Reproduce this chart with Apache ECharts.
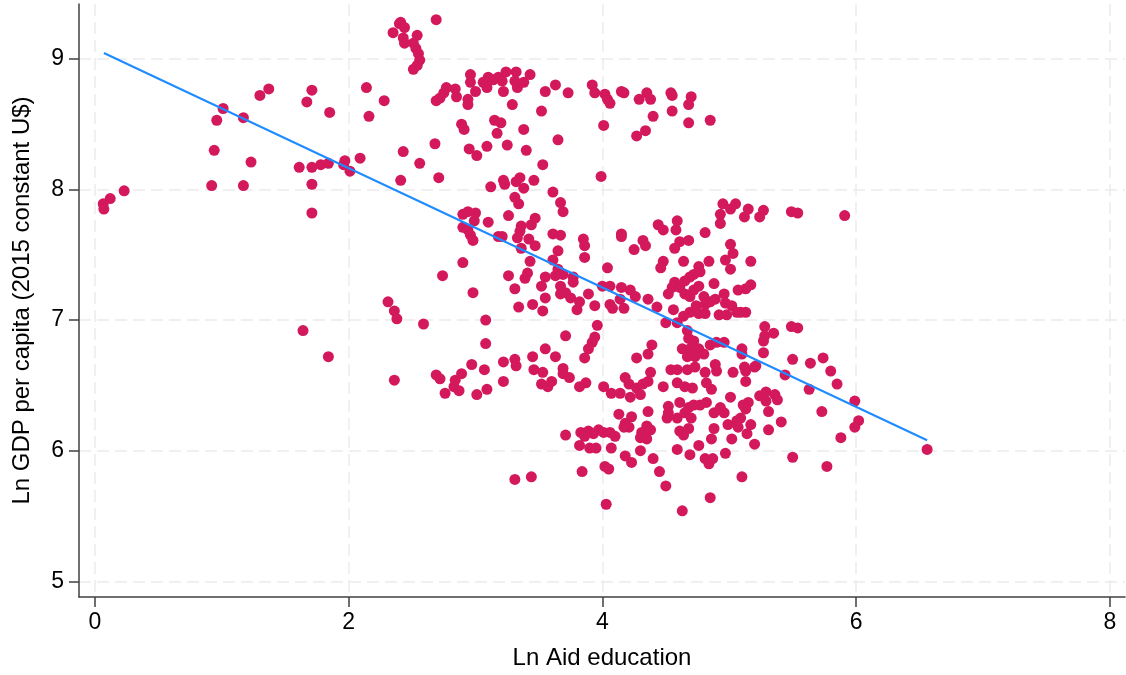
<!DOCTYPE html>
<html><head><meta charset="utf-8">
<script src="https://cdn.jsdelivr.net/npm/echarts@6/dist/echarts.min.js"></script>
<style>html,body{margin:0;padding:0;background:#fff}#c{width:1126px;height:675px}</style>
</head><body><div id="c"></div>
<script>
// Ln Aid education (x) and Ln GDP per capita (y)
const aidX = [
0.065,0.07,0.12,0.23,0.92,0.94,0.96,1.01,1.17,1.17,1.23,1.30,1.37,1.61,1.67,1.71,1.71,1.71,1.71,1.78,1.84,1.85,1.96,1.97,2.01,2.09,2.14,2.16,2.28,2.31,2.36,2.38,1.64,2.41,2.43,2.35,2.40,1.84,2.36,
2.69,2.41,2.44,2.43,2.54,2.44,2.51,2.53,2.55,2.56,2.54,2.51,2.77,2.84,2.75,2.72,2.69,2.85,2.94,2.94,2.96,2.96,3.00,3.06,3.10,3.09,3.14,3.18,3.21,3.24,3.22,3.32,3.31,3.33,3.38,3.43,3.29,3.55,3.63,3.52,3.73,2.89,2.91,3.15,3.20,3.17,3.38,3.65,2.68,2.56,2.95,3.01,3.09,3.25,3.40,3.53,2.71,3.22,3.23,3.35,3.32,3.38,3.46,3.12,
3.61,3.67,3.69,3.31,3.34,3.26,2.90,2.94,3.00,2.99,3.10,2.90,2.94,2.96,2.98,3.18,3.21,3.36,3.35,3.33,3.44,3.47,3.42,3.47,3.36,3.43,3.61,3.67,3.65,3.61,3.65,3.63,3.69,3.67,3.67,3.71,3.55,3.52,3.55,3.45,3.53,3.41,3.39,3.26,3.31,3.34,2.90,2.74,2.98,2.59,3.08,3.08,3.71,3.55,
2.69,2.72,2.89,2.84,2.83,2.87,2.76,2.97,3.07,3.01,3.09,3.22,3.31,3.32,3.22,3.45,3.63,3.46,3.53,3.69,3.69,3.74,3.52,3.57,3.60,3.71,3.31,3.44,
3.92,3.94,4.02,4.04,4.06,4.15,4.17,4.35,4.29,4.38,4.54,4.55,4.70,4.68,4.01,4.40,4.55,4.34,4.27,4.68,4.85,3.99,4.95,5.05,5.01,4.93,5.15,5.12,4.93,4.59,4.58,4.44,4.48,4.15,4.81,5.24,
5.27,5.49,5.54,5.91,5.17,5.17,5.13,5.13,5.09,5.28,5.35,5.28,5.27,5.49,5.54,5.10,5.27,5.50,5.74,
5.64,5.80,5.85,5.44,5.63,5.99,5.73,6.02,5.99,5.88,6.56,5.50,5.77,5.10,5.20,5.12,5.13,5.13,5.24,5.29,5.29,5.36,5.38,5.31,5.11,5.15,5.13,5.09,5.17,5.14,5.41,5.31,5.20,
3.85,3.86,3.86,4.15,4.25,4.32,4.34,4.61,4.68,4.57,5.01,5.03,4.48,4.46,4.64,4.76,4.84,4.97,5.01,4.04,3.77,3.77,4.00,4.06,4.15,4.22,4.26,4.36,4.43,4.50,4.59,4.56,4.52,4.55,4.57,4.61,4.65,4.69,4.72,4.77,4.65,4.69,4.72,4.76,4.80,4.74,4.81,4.85,4.89,4.96,4.97,4.88,5.07,5.02,5.06,4.69,4.64,4.76,4.81,4.92,4.98,4.06,4.08,4.14,4.17,3.94,3.80,3.82,3.89,3.75,4.67,4.68,4.72,4.63,4.69,4.76,4.80,4.67,4.73,4.85,4.90,4.96,5.10,5.21,4.89,3.96,3.94,3.92,3.89,3.86,4.39,4.36,4.27,4.18,4.38,4.54,4.59,4.67,4.73,4.81,4.90,5.03,
3.82,3.87,4.01,4.07,4.14,4.21,4.22,4.27,4.30,4.32,4.36,4.48,4.59,4.65,4.71,4.82,4.86,5.01,4.13,4.23,4.18,4.21,4.17,4.36,4.52,4.52,4.61,4.51,4.59,4.65,4.68,4.72,4.77,4.82,4.70,4.88,4.93,4.96,4.35,4.38,4.31,4.35,4.30,3.83,3.89,3.97,4.01,4.06,4.10,3.93,3.86,3.82,3.90,3.95,4.07,4.18,4.23,4.30,4.40,4.45,4.50,4.02,4.05,3.84,4.03,4.63,4.85,4.59,4.69,4.76,4.61,4.64,4.68,4.86,4.88,4.81,4.84,4.87,4.97,5.02,4.99,5.06,5.07
];
const gdpY = [
7.89,7.85,7.93,7.99,8.03,8.30,8.53,8.62,8.55,8.03,8.21,8.72,8.77,8.17,8.67,8.76,8.17,8.04,7.82,8.19,8.20,8.59,8.19,8.22,8.14,8.24,8.78,8.56,8.68,7.14,7.07,7.01,6.92,8.07,8.29,9.20,9.27,6.72,6.54,
9.30,9.28,9.24,9.16,9.18,9.12,9.12,9.08,9.04,8.99,8.95,8.92,8.78,8.77,8.74,8.70,8.68,8.71,8.69,8.65,8.88,8.82,8.75,8.82,8.86,8.78,8.84,8.86,8.83,8.90,8.75,8.90,8.83,8.78,8.82,8.88,8.65,8.75,8.80,8.60,8.74,8.50,8.46,8.53,8.51,8.43,8.46,8.38,8.35,8.20,8.31,8.26,8.33,8.34,8.30,8.19,8.09,8.07,8.04,8.09,8.06,8.01,8.07,8.02,
7.98,7.90,7.83,7.94,7.89,7.80,7.81,7.83,7.82,7.76,7.75,7.71,7.69,7.65,7.61,7.64,7.64,7.72,7.68,7.63,7.73,7.78,7.62,7.57,7.55,7.45,7.66,7.65,7.53,7.46,7.39,7.34,7.35,7.26,7.20,7.21,7.33,7.26,7.17,7.12,7.07,7.36,7.32,7.34,7.24,7.10,7.44,7.34,7.21,6.97,7.00,6.82,6.88,6.78,
6.58,6.55,6.59,6.54,6.49,6.46,6.44,6.66,6.62,6.43,6.47,6.68,6.70,6.65,6.53,6.72,6.72,6.62,6.60,6.63,6.59,6.56,6.51,6.49,6.53,6.12,5.78,5.80,
8.80,8.74,8.73,8.69,8.66,8.75,8.74,8.74,8.69,8.69,8.74,8.72,8.71,8.65,8.49,8.56,8.60,8.45,8.41,8.51,8.53,8.10,7.89,7.89,7.85,7.81,7.85,7.79,7.74,7.76,7.69,7.73,7.69,7.66,7.67,7.79,
7.84,7.83,7.82,7.80,7.45,7.27,7.24,7.06,7.06,6.95,6.90,6.88,6.84,6.95,6.94,6.78,6.75,6.70,6.71,
6.67,6.61,6.51,6.58,6.47,6.38,6.30,6.23,6.18,6.10,6.01,5.95,5.88,5.80,6.64,6.64,6.61,6.53,6.42,6.45,6.38,6.43,6.39,6.30,6.35,6.37,6.32,6.25,6.20,6.13,6.22,6.16,6.05,
7.62,7.57,7.48,7.64,7.54,7.61,7.57,7.60,7.61,7.55,7.58,7.51,7.45,7.40,7.45,7.41,7.45,7.46,7.39,7.40,7.33,7.29,7.26,7.26,7.25,7.23,7.18,7.16,7.10,6.98,6.98,7.08,7.20,7.25,7.29,7.25,7.30,7.33,7.35,7.37,7.20,7.18,7.23,7.26,7.18,7.11,7.12,7.14,7.16,7.20,7.13,7.28,7.23,7.11,7.06,7.06,7.03,7.05,7.05,7.04,7.04,7.12,7.09,7.16,7.09,7.11,7.08,7.14,7.20,7.17,6.92,6.86,6.84,6.78,6.78,6.78,6.74,6.72,6.72,6.81,6.83,6.83,6.74,6.65,6.66,6.96,6.87,6.83,6.78,6.71,6.81,6.74,6.71,6.56,6.60,6.62,6.62,6.62,6.64,6.60,6.61,6.60,
6.49,6.52,6.49,6.44,6.44,6.51,6.41,6.48,6.43,6.51,6.53,6.49,6.52,6.49,6.48,6.52,6.47,6.41,6.28,6.26,6.21,6.18,6.18,6.30,6.34,6.29,6.37,6.25,6.25,6.29,6.33,6.35,6.35,6.37,6.25,6.29,6.33,6.29,6.19,6.16,6.14,6.09,6.10,6.14,6.15,6.16,6.14,6.14,6.11,6.13,6.11,6.04,6.02,6.02,6.02,5.96,5.91,6.00,5.94,5.84,5.73,5.88,5.86,5.84,5.59,5.54,5.64,6.01,5.97,6.04,6.15,6.12,6.17,6.09,6.17,5.94,5.90,5.94,5.98,6.09,6.20,6.23,6.18
];
// fitted line end points
const fitX = [0.07, 6.56];
const fitY = [9.045, 6.08];
const xTicks = [0, 2, 4, 6, 8];
const yTicks = [5, 6, 7, 8, 9];
const xTitle = 'Ln Aid education';
const yTitle = 'Ln GDP per capita (2015 constant U$)';

const pts = aidX.map((x, i) => [x, gdpY[i]]);
const fit = fitX.map((x, i) => [x, fitY[i]]);
const FONT = 'Liberation Sans, Arial, Helvetica, sans-serif';
const axisCol = '#404040';
const gridLine = {show: true, lineStyle: {type: [12, 6], color: '#ebebeb', width: 1.5}};

const chart = echarts.init(document.getElementById('c'), null, {renderer: 'canvas'});
chart.setOption({
  animation: false,
  backgroundColor: '#fff',
  grid: {left: 79, right: 1, top: 4, bottom: 77, containLabel: false},
  xAxis: {
    type: 'value', min: -0.126, max: 8.12,
    name: xTitle, nameLocation: 'middle', nameGap: 49,
    nameTextStyle: {fontSize: 24, color: '#000', fontFamily: FONT},
    axisLine: {show: true, onZero: false, lineStyle: {color: axisCol, width: 1.5}},
    axisTick: {show: true, customValues: xTicks, length: 10, lineStyle: {color: axisCol, width: 1.5}},
    axisLabel: {customValues: xTicks, fontSize: 23, color: '#000', margin: 14, fontFamily: FONT},
    splitLine: gridLine
  },
  yAxis: {
    type: 'value', min: 4.88, max: 9.42,
    name: yTitle, nameLocation: 'middle', nameGap: 45, nameRotate: 90,
    nameTextStyle: {fontSize: 24, color: '#000', fontFamily: FONT},
    axisLine: {show: true, onZero: false, lineStyle: {color: axisCol, width: 1.5}},
    axisTick: {show: true, customValues: yTicks, length: 10, lineStyle: {color: axisCol, width: 1.5}},
    axisLabel: {customValues: yTicks, fontSize: 23, color: '#000', margin: 15, fontFamily: FONT},
    splitLine: gridLine
  },
  series: [
    {type: 'scatter', data: pts, symbolSize: 11, itemStyle: {color: '#d3195b', opacity: 1}, z: 2},
    {type: 'line', data: fit, showSymbol: false, lineStyle: {color: '#1e8cff', width: 2}, z: 3}
  ]
});
</script>
</body></html>
